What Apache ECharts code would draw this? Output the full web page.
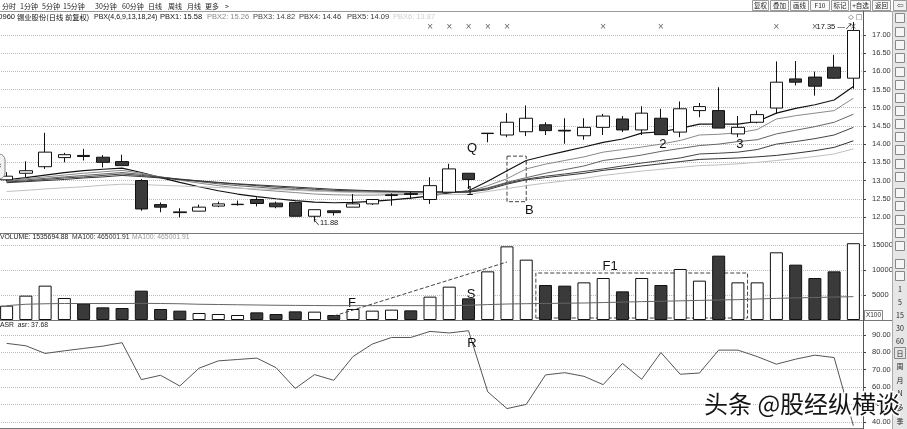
<!DOCTYPE html>
<html><head><meta charset="utf-8">
<script src="https://cdn.jsdelivr.net/npm/echarts@6/dist/echarts.min.js"></script>
<style>html,body{margin:0;padding:0;background:#fff;}#c{width:907px;height:429px;}</style>
</head><body><div id="c"></div>
<script>
// ---------- data ----------
const days = ['d01','d02','d03','d04','d05','d06','d07','d08','d09','d10','d11','d12','d13','d14','d15','d16','d17','d18','d19','d20','d21','d22','d23','d24','d25','d26','d27','d28','d29','d30','d31','d32','d33','d34','d35','d36','d37','d38','d39','d40','d41','d42','d43','d44','d45'];
const opens  = [13.02,13.20,13.38,13.63,13.69,13.64,13.52,13.00,12.34,12.14,12.16,12.30,12.34,12.48,12.38,12.40,12.02,12.17,12.27,12.36,12.59,12.64,12.48,12.68,13.20,14.29,14.25,14.34,14.53,14.38,14.23,14.46,14.69,14.39,14.71,14.33,14.92,14.92,14.28,14.60,14.99,15.79,15.84,16.11,15.81];
const closes = [13.12,13.27,13.78,13.71,13.66,13.50,13.41,12.22,12.27,12.12,12.27,12.36,12.35,12.37,12.28,12.02,12.20,12.12,12.36,12.48,12.61,12.62,12.86,13.32,13.03,14.30,14.60,14.71,14.37,14.36,14.46,14.77,14.39,14.85,14.26,14.97,15.03,14.44,14.46,14.81,15.70,15.70,15.59,15.81,17.12];
const lows   = [12.98,13.09,13.32,13.50,13.55,13.36,13.41,12.17,12.13,11.99,12.16,12.27,12.31,12.29,12.24,12.02,11.88,12.04,12.27,12.33,12.31,12.49,12.36,12.68,12.77,14.05,14.19,14.22,14.25,14.01,14.12,14.25,14.33,14.25,14.26,14.19,14.74,14.44,14.19,14.57,14.83,15.61,15.33,15.79,15.52];
const highs  = [13.23,13.53,14.31,13.76,13.87,13.70,13.71,13.04,12.40,12.24,12.34,12.42,12.45,12.54,12.42,12.42,12.20,12.17,12.63,12.49,12.65,12.70,13.09,13.46,13.20,14.30,14.85,15.06,14.60,14.71,14.71,14.83,14.77,15.04,14.97,15.17,15.13,15.56,14.77,14.92,16.27,16.28,15.99,16.45,17.35];

const pbx1 = [13.02,13.08,13.15,13.22,13.27,13.31,13.34,13.22,13.08,12.95,12.83,12.72,12.63,12.56,12.50,12.45,12.41,12.39,12.40,12.43,12.47,12.52,12.58,12.66,12.72,12.98,13.27,13.55,13.68,13.80,13.92,14.05,14.14,14.30,14.34,14.43,14.55,14.55,14.55,14.62,14.85,14.98,15.08,15.21,15.58];
const pbx2 = [13.00,13.05,13.10,13.15,13.20,13.24,13.28,13.20,13.10,13.01,12.93,12.86,12.80,12.75,12.71,12.67,12.63,12.61,12.60,12.60,12.61,12.62,12.64,12.68,12.70,12.86,13.05,13.32,13.45,13.55,13.65,13.78,13.85,13.92,14.00,14.10,14.25,14.27,14.31,14.40,14.69,14.78,14.85,14.92,15.26];
const pbx3 = [12.98,13.02,13.06,13.10,13.14,13.18,13.22,13.17,13.10,13.03,12.97,12.91,12.86,12.82,12.78,12.75,12.72,12.70,12.69,12.68,12.68,12.68,12.68,12.69,12.70,12.80,12.95,13.08,13.20,13.30,13.40,13.55,13.62,13.70,13.80,13.88,13.96,14.00,14.07,14.12,14.28,14.38,14.48,14.60,14.82];
const pbx4 = [12.96,12.99,13.03,13.07,13.10,13.14,13.18,13.14,13.09,13.04,12.99,12.94,12.90,12.86,12.82,12.79,12.76,12.73,12.72,12.71,12.70,12.69,12.69,12.69,12.69,12.78,12.93,13.04,13.12,13.18,13.25,13.32,13.40,13.48,13.55,13.62,13.73,13.75,13.78,13.85,14.00,14.07,14.15,14.25,14.46];
const pbx5 = [12.94,12.97,13.00,13.03,13.07,13.10,13.14,13.11,13.07,13.03,12.99,12.95,12.91,12.88,12.85,12.82,12.79,12.76,12.74,12.72,12.71,12.70,12.69,12.68,12.68,12.75,12.90,13.02,13.08,13.14,13.20,13.28,13.34,13.40,13.46,13.52,13.58,13.60,13.62,13.65,13.69,13.75,13.82,13.91,14.09];
const pbx6 = [12.70,12.73,12.77,12.80,12.83,12.87,12.90,12.89,12.87,12.85,12.83,12.81,12.79,12.77,12.75,12.73,12.71,12.69,12.67,12.66,12.65,12.64,12.63,12.62,12.62,12.70,12.78,12.86,12.93,12.99,13.06,13.14,13.20,13.26,13.31,13.36,13.41,13.43,13.46,13.50,13.55,13.60,13.66,13.73,13.87];

const volume = [2870,4870,6870,4400,3330,2530,2400,5870,2200,1870,1400,1200,1000,1530,1200,1730,1670,1000,2200,1870,2070,1930,4670,6670,4330,9730,14730,12070,7000,6870,7530,8400,5730,8400,7000,10200,7870,12870,7530,7530,13540,11070,8400,9730,15357];
const volMA100 = [2870,3150,3250,3300,3300,3300,3300,3330,3300,3250,3150,3100,3050,3000,2950,2920,2900,2870,2870,2870,2870,2870,2870,2870,2950,3080,3200,3260,3310,3360,3400,3490,3580,3670,3750,3830,3920,4000,4070,4200,4330,4420,4500,4590,4670];
const asr = [85.2,83.8,79.4,80.9,82.3,83.6,85.6,64.3,66.8,60.6,70.9,75.1,75.9,76.7,71.2,59.2,67.2,63.9,77.6,84.8,88.6,88.6,92.1,91.2,92.5,57.3,47.6,50.0,67.0,68.3,66.2,61.4,73.6,64.5,79.9,67.4,68.1,81.3,81.3,77.6,73.2,76.1,78.4,77.0,37.68];
const eventMarks = [22,23,24,25,26,31,34,40,42,44];

const priceTicks = {min:11.5, max:17.5, step:0.5};
const volTicks = {min:0, max:17500, step:5000};
const asrTicks = {min:30, max:100, step:10};

// ---------- chart ----------
const FONT = '"Liberation Sans","Noto Sans CJK SC",sans-serif';
const CJK = '"Noto Sans CJK SC","Liberation Sans",sans-serif';
const DARK = '#3a3a3a';
const candle = opens.map((o,i)=>[o, closes[i], lows[i], highs[i]]);
const isUp = opens.map((o,i)=> closes[i] >= o);
const volData = volume.map((v,i)=>({value:v, itemStyle:{color: isUp[i] ? '#fff' : DARK, borderColor:'#111', borderWidth:1}}));

const chart = echarts.init(document.getElementById('c'), null, {renderer:'canvas'});

function xAx(g){ return {type:'category', gridIndex:g, data:days, boundaryGap:true,
  axisLine:{show:false}, axisTick:{show:false}, axisLabel:{show:false}, splitLine:{show:false}}; }
function yAx(g, t, fmt){ return {type:'value', gridIndex:g, position:'right', min:t.min, max:t.max, interval:t.step,
  axisLine:{show:false}, axisTick:{show:true, length:3, lineStyle:{color:'#444'}},
  axisLabel:{show:true, fontSize:7.5, color:'#333', margin:9, fontFamily:FONT, formatter:fmt, showMinLabel:false, showMaxLabel:false},
  splitLine:{show:true, showMinLine:false, showMaxLine:false, lineStyle:{color:'#bdbdbd', type:'dotted', width:1}}}; }

function ann(txt, coord, off, size){ return {name:txt, coord:coord, symbolSize:0,
  label:{show:true, position:'inside', formatter:txt, offset:off||[0,0], fontSize:size||13, color:'#111', fontFamily:FONT}}; }

const pbxColors = ['#111','#8a8a8a','#666','#444','#333','#c0c0c0'];
const pbxAll = [pbx1,pbx2,pbx3,pbx4,pbx5,pbx6];
const pbxSeries = pbxAll.map((d,k)=>({type:'line', name:'PBX'+(k+1), xAxisIndex:0, yAxisIndex:0, data:d,
  showSymbol:false, symbol:'none', silent:true, lineStyle:{color:pbxColors[k], width:k===0?1.2:1}, z:3}));

const g = [];
function txt(text, x, y, opt){ opt = opt||{}; g.push({type:'text', x:x, y:y, silent:true, z:opt.z||50,
  style:{text:text, font:(opt.weight||'normal')+' '+(opt.size||7)+'px '+(opt.family||CJK), fill:opt.color||'#111',
  align:opt.align||'left', verticalAlign:'middle', textAlign:opt.align||'left', textVerticalAlign:'middle',
  stroke:opt.stroke, lineWidth:opt.lw||0}}); }
function line(x1,y1,x2,y2,c,w){ g.push({type:'line', silent:true, z:40, shape:{x1:x1,y1:y1,x2:x2,y2:y2}, style:{stroke:c||'#666', lineWidth:w||1}}); }
function rect(x,y,w,h,fill,stroke,r){ g.push({type:'rect', silent:true, z:39, shape:{x:x,y:y,width:w,height:h,r:r||0}, style:{fill:fill||'none', stroke:stroke||'none', lineWidth:1}}); }

// toolbar
[['分时',2],['1分钟',20],['5分钟',42],['15分钟',63],['30分钟',95],['60分钟',122],['日线',148],['周线',168],['月线',187],['更多',205],['>',225]]
  .forEach(t=>txt(t[0], t[1], 6, {size:7, color:'#222'}));
line(0,11.5,892,11.5,'#999',1);
[['复权',752,768],['叠加',770,788],['画线',790,808],['F10',810,829],['标记',831,848],['+自选',850,870],['返回',872,890]].forEach(b=>{
  rect(b[1]+0.5,0.5,b[2]-b[1],10,'#fafafa','#999');
  txt(b[0], (b[1]+b[2])/2+0.5, 6, {size:6.5, align:'center', color:'#222'});
});
// title row
txt('000960', 15, 17, {size:7.5, align:'right', family:FONT});
txt('锡业股份(日线 前复权)', 17, 17, {size:7.3});
txt('PBX(4,6,9,13,18,24)', 94, 17, {size:7, family:FONT});
txt('PBX1: 15.58', 160, 17, {size:7.5, family:FONT, color:'#111'});
txt('PBX2: 15.26', 207, 17, {size:7.5, family:FONT, color:'#8a8a8a'});
txt('PBX3: 14.82', 253, 17, {size:7.5, family:FONT, color:'#444'});
txt('PBX4: 14.46', 299, 17, {size:7.5, family:FONT, color:'#333'});
txt('PBX5: 14.09', 347, 17, {size:7.5, family:FONT, color:'#333'});
txt('PBX6: 13.87', 393, 17, {size:7.5, family:FONT, color:'#d0d0d0'});
txt('◇', 851, 17, {size:7, align:'center', family:'DejaVu Sans', color:'#555'});
txt('□', 859, 17, {size:7, align:'center', family:'DejaVu Sans', color:'#555'});
// panel labels
txt('VOLUME: 1535694.88', 0, 237.5, {size:6.8, family:FONT, color:'#222'});
txt('MA100: 465001.91', 72, 237.5, {size:6.8, family:FONT, color:'#333'});
txt('MA100: 465001.91', 132, 237.5, {size:6.8, family:FONT, color:'#999'});
txt('ASR  asr: 37.68', 0, 325.5, {size:6.8, family:FONT, color:'#222'});
// borders
line(0,233.5,864,233.5,'#777',1);
line(0,320.5,892,320.5,'#777',1);
line(0,428.5,864,428.5,'#777',1);
line(863.5,11,863.5,429,'#555',1);
rect(864.5,310.5,18,10,'#fff','#888');
txt('X100', 873.5, 315.5, {size:6.5, align:'center', family:FONT, color:'#333'});
// left nav icon
rect(-8,154,13,25,'#f2f2f2','#888',6);
txt('‹', 0, 166, {size:9, align:'center', family:'DejaVu Sans', color:'#555'});
// right sidebar
rect(892.5,11.5,15,418,'#e6e6e6','#aaa');
rect(893.5,0.5,13,10,'#f2f2f2','#999');
txt('⇦', 900, 6, {size:8, align:'center', family:'DejaVu Sans', color:'#555'});
[18,32,45,58,72,85,98,111,124,137,150,164,177,193,206,220,233,246,264,276].forEach(y=>{
  rect(895.5,y-4.5,9,9,'#f6f6f6','#888');
});
[['1',289],['5',302],['15',315],['30',328],['60',341],['日',353],['周',366],['月',380],['N',393],['多',407],['季',421]]
  .forEach(t=>txt(t[0], 900, t[1], {size:7, align:'center', color:'#222'}));
rect(894.5,347.5,11,11,'none','#888');
// watermark
txt('头条 @股经纵横谈', 704, 404, {size:24, family:CJK, color:'#151515', stroke:'#ffffff', lw:3, z:60});

const gridBase = {left:-3, width:866, containLabel:false, outerBoundsMode:'none'};
const option = {
  animation:false,
  backgroundColor:'#fff',
  grid:[
    Object.assign({top:16.6, height:218.6}, gridBase),
    Object.assign({top:232.5, height:87.5}, gridBase),
    Object.assign({top:317.7, height:121.4}, gridBase)
  ],
  xAxis:[xAx(0), xAx(1), xAx(2)],
  yAxis:[
    yAx(0, priceTicks, v=>v.toFixed(2)),
    yAx(1, volTicks, v=>String(v)),
    yAx(2, asrTicks, v=>v.toFixed(2))
  ],
  series:[
    {type:'candlestick', xAxisIndex:0, yAxisIndex:0, data:candle, barWidth:13, z:4,
     itemStyle:{color:'#fff', color0:DARK, borderColor:'#111', borderColor0:'#111', borderWidth:1},
     markPoint:{silent:true, symbol:'circle', data:[
       ann('Q',[24,13.89],[3.5,0]), ann('1',[24,12.69],[1.5,0]), ann('B',[27,12.19],[3,0]),
       ann('2',[34,13.98],[2,0]), ann('3',[38,14.0],[2,0]),
       {name:'lo', coord:[16,11.88], symbolSize:0, label:{show:true, position:'right', distance:0, formatter:'↖11.88', offset:[-2,2], fontSize:7.5, color:'#111', fontFamily:FONT}},
       {name:'hi', coord:[44,17.35], symbolSize:0, label:{show:true, position:'left', distance:1, formatter:'17.35 —↗', offset:[0,4.5], fontSize:7.5, color:'#111', fontFamily:FONT}}
     ]},
     markArea:{silent:true, itemStyle:{color:'rgba(0,0,0,0)', borderColor:'#444', borderWidth:1, borderType:'dashed'},
       data:[[{coord:[26,13.67]},{coord:[27,12.42]}]]}
    },
    ...pbxSeries,
    {type:'scatter', xAxisIndex:0, yAxisIndex:0, data:eventMarks.map(i=>[i,17.23]), symbolSize:0, silent:true, z:6,
     label:{show:true, position:'inside', formatter:'×', fontSize:8, color:'#333', fontFamily:'DejaVu Sans'}},
    {type:'bar', xAxisIndex:1, yAxisIndex:1, data:volData, barWidth:13, z:4,
     markLine:{silent:true, symbol:['none','none'], label:{show:false}, lineStyle:{type:'dashed', color:'#444', width:1},
       data:[[{coord:[17,800]},{coord:[26,11600]}]]},
     markArea:{silent:true, itemStyle:{color:'rgba(0,0,0,0)', borderColor:'#444', borderWidth:1, borderType:'dashed'},
       data:[[{coord:[28,9400]},{coord:[38,400]}]]},
     markPoint:{silent:true, data:[ann('F',[18,3400],[-1,0]), ann('S',[24,5200],[2.5,0]), ann('F1',[31,10800],[7,0])]}
    },
    {type:'line', xAxisIndex:1, yAxisIndex:1, data:volMA100, showSymbol:false, symbol:'none', silent:true, z:5,
     lineStyle:{color:'#666', width:1}},
    {type:'line', xAxisIndex:2, yAxisIndex:2, data:asr, showSymbol:false, symbol:'none', silent:true,
     lineStyle:{color:'#555', width:1},
     markPoint:{silent:true, data:[ann('R',[24,85.4],[3.5,0])]}}
  ],
  graphic:{elements:g}
};
chart.setOption(option);
</script></body></html>
